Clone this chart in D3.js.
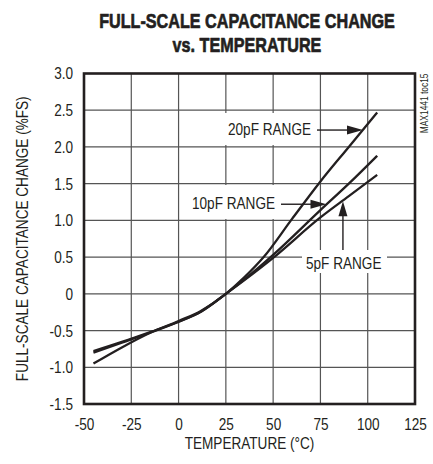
<!DOCTYPE html>
<html>
<head>
<meta charset="utf-8">
<script src="https://cdn.jsdelivr.net/npm/d3@7"></script>
<style>
  html, body { margin: 0; padding: 0; background: #fff; }
  svg { display: block; }
  text { font-family: "Liberation Sans", Arial, Helvetica, sans-serif; fill: #231f20; }
</style>
</head>
<body>
<svg id="chart" width="433" height="464"></svg>
<script>
// ---- data ----
const titleLines = ["FULL-SCALE CAPACITANCE CHANGE", "vs. TEMPERATURE"];
const xTicks = [-50, -25, 0, 25, 50, 75, 100, 125];
const yTicks = [-1.5, -1.0, -0.5, 0, 0.5, 1.0, 1.5, 2.0, 2.5, 3.0];
const yTickLabels = ["-1.5", "-1.0", "-0.5", "0", "0.5", "1.0", "1.5", "2.0", "2.5", "3.0"];
const temps5 = [-45, -30, -15, 0, 12, 25, 35, 50, 75, 90, 105];
const range5pF = [-0.78, -0.655, -0.52, -0.38, -0.24, 0, 0.19, 0.49, 1.04, 1.33, 1.62];
const temps10 = [-45, -30, -15, 0, 12, 25, 35, 50, 75, 90, 105];
const range10pF = [-0.80, -0.665, -0.53, -0.38, -0.24, 0, 0.20, 0.53, 1.14, 1.50, 1.88];
const temps20 = [-45, -30, -15, 0, 12, 25, 35, 45, 60, 75, 90, 105];
const range20pF = [-0.95, -0.73, -0.53, -0.37, -0.23, 0, 0.23, 0.50, 1.02, 1.53, 2.00, 2.47];
// annotation arrow tips (data coords)
const annotations = [
  { label: "20pF RANGE", tipT: 97.5, tipV: 2.23, dir: "right" },
  { label: "10pF RANGE", tipT: 78.2, tipV: 1.22, dir: "right" },
  { label: "5pF RANGE", tipT: 86.9, tipV: 1.26, dir: "up" }
];
const xTitle = "TEMPERATURE (°C)";
const yTitle = "FULL-SCALE CAPACITANCE CHANGE (%FS)";
const docId = "MAX1441 toc15";

// ---- layout ----
const svg = d3.select("#chart");
const L = 84, R = 415, T = 73.5, B = 404;
const x = d3.scaleLinear().domain([-50, 125]).range([L, R]);
const y = d3.scaleLinear().domain([-1.5, 3]).range([B, T]);
const ink = "#231f20";
const cond = 0.8;   // horizontal condensing to mimic a condensed typeface

function addText(px, py, str, opts = {}) {
  const rot = opts.rotate ? ` rotate(${opts.rotate})` : "";
  const sx = opts.scale || cond;
  const t = svg.append("text")
    .attr("transform", `translate(${px},${py})${rot} scale(${sx},1)`)
    .attr("text-anchor", opts.anchor || "start")
    .attr("font-size", opts.size || 17)
    .attr("font-weight", opts.weight || "normal")
    .text(str);
  if (opts.heavy) t.attr("stroke", ink).attr("stroke-width", opts.heavy).attr("stroke-linejoin", "round");
  return t;
}

svg.append("rect").attr("width", 433).attr("height", 464).attr("fill", "#fff");

// title
addText(247, 28, titleLines[0], { anchor: "middle", size: 21, weight: "bold", scale: 0.77, heavy: 0.7 });
addText(247, 52, titleLines[1], { anchor: "middle", size: 21, weight: "bold", scale: 0.77, heavy: 0.7 });

// grid
const grid = svg.append("g");
grid.selectAll("line.v").data(xTicks.slice(1, -1)).enter().append("line")
  .attr("x1", d => x(d)).attr("x2", d => x(d)).attr("y1", T).attr("y2", B)
  .attr("stroke", "#555").attr("stroke-width", 1.2);
grid.selectAll("line.h").data(yTicks.slice(1, -1)).enter().append("line")
  .attr("y1", d => y(d)).attr("y2", d => y(d)).attr("x1", L).attr("x2", R)
  .attr("stroke", "#555").attr("stroke-width", 1.2);

// axes via d3 axis (labels only)
const xAxis = svg.append("g").attr("transform", `translate(0,${B})`)
  .call(d3.axisBottom(x).tickValues(xTicks).tickSize(0).tickPadding(14).tickFormat(d => String(d)));
const yAxis = svg.append("g").attr("transform", `translate(${L},0)`)
  .call(d3.axisLeft(y).tickValues(yTicks).tickSize(0).tickPadding(11).tickFormat((d, i) => yTickLabels[i]));
[xAxis, yAxis].forEach(a => {
  a.select(".domain").remove();
  a.selectAll("text").attr("font-size", 17).attr("fill", ink)
    .attr("font-family", "Liberation Sans, Arial, Helvetica, sans-serif")
    .attr("transform", `scale(${cond},1)`);
});
yAxis.selectAll("text").attr("x", -11 / cond);

// axis titles
addText((L + R) / 2, 449, xTitle, { anchor: "middle" });
addText(28, (T + B) / 2, yTitle, { anchor: "middle", rotate: -90 });
addText(428, T, docId, { anchor: "end", rotate: -90, size: 10.5 });

// label background boxes
const boxes = [
  { x0: 225, x1: 316, y0: 113, y1: 145 },
  { x0: 189, x1: 279, y0: 185, y1: 219 },
  { x0: 302, x1: 387, y0: 250, y1: 273 }
];
svg.selectAll("rect.box").data(boxes).enter().append("rect")
  .attr("x", d => d.x0).attr("y", d => d.y0)
  .attr("width", d => d.x1 - d.x0).attr("height", d => d.y1 - d.y0).attr("fill", "#fff");

// curves
const line = d3.line().x(d => x(d[0])).y(d => y(d[1])).curve(d3.curveMonotoneX);
const series = [
  d3.zip(temps5, range5pF),
  d3.zip(temps10, range10pF),
  d3.zip(temps20, range20pF)
];
svg.selectAll("path.curve").data(series).enter().append("path")
  .attr("d", line).attr("fill", "none").attr("stroke", ink).attr("stroke-width", 2.3);

// frame
svg.append("rect").attr("x", L).attr("y", T).attr("width", R - L).attr("height", B - T)
  .attr("fill", "none").attr("stroke", ink).attr("stroke-width", 2.6);

// annotations
const textPos = [
  { tx: 228, ty: 135 },
  { tx: 192, ty: 209 },
  { tx: 306, ty: 269 }
];
annotations.forEach((a, i) => {
  const tipX = x(a.tipT), tipY = y(a.tipV);
  addText(textPos[i].tx, textPos[i].ty, a.label);
  if (a.dir === "right") {
    const startX = i === 0 ? 317 : 281;
    svg.append("line").attr("x1", startX).attr("x2", tipX - 14).attr("y1", tipY).attr("y2", tipY)
      .attr("stroke", ink).attr("stroke-width", 1.4);
    svg.append("path").attr("d", `M${tipX},${tipY} L${tipX - 16},${tipY - 4.5} L${tipX - 16},${tipY + 4.5} Z`)
      .attr("fill", ink);
  } else {
    svg.append("line").attr("x1", tipX).attr("x2", tipX).attr("y1", 250).attr("y2", tipY + 14)
      .attr("stroke", ink).attr("stroke-width", 1.4);
    svg.append("path").attr("d", `M${tipX},${tipY} L${tipX - 4.5},${tipY + 15} L${tipX + 4.5},${tipY + 15} Z`)
      .attr("fill", ink);
  }
});
</script>
</body>
</html>
